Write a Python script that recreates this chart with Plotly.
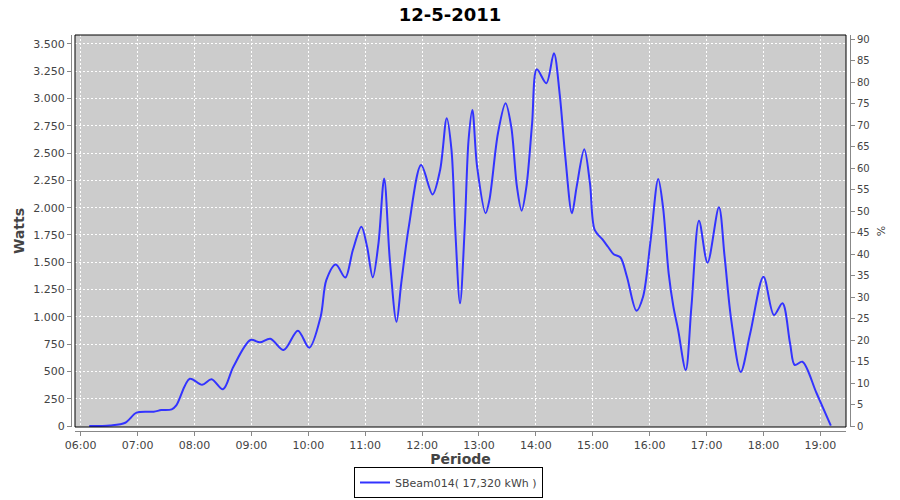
import plotly.graph_objects as go

# Data (time of day, watts)
times = ["06:09", "06:31", "06:47", "06:59", "07:17", "07:25", "07:36", "07:41", "07:55", "08:08",
         "08:18", "08:30", "08:41", "08:59", "09:09", "09:20", "09:34", "09:49", "10:01", "10:13",
         "10:19", "10:29", "10:39", "10:47", "10:56", "11:02", "11:08", "11:14", "11:20", "11:26",
         "11:33", "11:38", "11:46", "11:59", "12:11", "12:19", "12:26", "12:31", "12:35", "12:40",
         "12:45", "12:49", "12:53", "12:58", "13:07", "13:11", "13:20", "13:28", "13:34", "13:40",
         "13:45", "13:50", "13:56", "14:01", "14:11", "14:19", "14:25", "14:31", "14:38", "14:43",
         "14:51", "14:57", "15:02", "15:10", "15:16", "15:22", "15:29", "15:36", "15:46", "15:53",
         "16:01", "16:09", "16:14", "16:20", "16:25", "16:30", "16:38", "16:44", "16:52", "17:01",
         "17:13", "17:19", "17:26", "17:36", "17:46", "18:00", "18:11", "18:20", "18:28", "18:33",
         "18:41", "18:56", "19:11"]
watts = [0, 5, 30, 122, 131, 146, 153, 192, 433, 378,
         428, 336, 543, 788, 767, 800, 696, 873, 717, 1001,
         1336, 1480, 1360, 1612, 1826, 1642, 1362, 1673, 2268, 1520,
         955, 1307, 1826, 2391, 2122, 2345, 2819, 2529, 1796, 1124,
         1826, 2620, 2895, 2376, 1949, 2071, 2682, 2957, 2742, 2193,
         1973, 2193, 2773, 3268, 3140, 3415, 3048, 2467, 1949, 2193,
         2535, 2224, 1796, 1711, 1642, 1573, 1546, 1368, 1056, 1185,
         1704, 2263, 2009, 1399, 1093, 880, 513, 1093, 1881, 1496,
         2004, 1551, 971, 495, 849, 1368, 1017, 1124, 758, 559,
         589, 300, 3]

day = "2011-05-12"
series_name = "SBeam014( 17,320 kWh )"
title_text = "12-5-2011"
x_range = [day + " 05:54:00", day + " 19:27:00"]
y_range = [-9, 3582]
y2_range = [-0.23, 90.93]

xs = [f"{day} {t}:00" for t in times]

W, H = 900, 500
ml, mr, mt, mb = 71, 50, 35, 69
pw = W - ml - mr
ph = H - mt - mb
off = 4

font_fam = "DejaVu Sans"
axis_col = "#888888"
txt_col = "#444444"

fig = go.Figure()
fig.add_trace(go.Scatter(
    x=xs, y=watts, mode="lines", name=series_name,
    line=dict(color="#3333ff", width=2, shape="spline", smoothing=0.9),
    hoverinfo="skip",
))
# invisible trace so the right-hand % axis is drawn
fig.add_trace(go.Scatter(
    x=[xs[0]], y=[0], yaxis="y2", mode="lines", showlegend=False,
    line=dict(color="rgba(0,0,0,0)"), hoverinfo="skip",
))

fig.update_layout(
    width=W, height=H,
    margin=dict(l=ml, r=mr, t=mt, b=mb, autoexpand=False),
    paper_bgcolor="white",
    plot_bgcolor="#cccccc",
    separators=",.",
    font=dict(family=font_fam, size=11, color=txt_col),
    title=dict(text=title_text, x=0.5, xref="container", xanchor="center",
               y=1 - 15 / H, yref="container", yanchor="middle",
               font=dict(family=font_fam, size=18, color="black", weight="bold")),
    showlegend=True,
    legend=dict(orientation="h", x=448.5 / W, xanchor="center", xref="container",
                y=1 - 498 / H, yanchor="bottom", yref="container",
                bordercolor="black", borderwidth=1, bgcolor="white",
                font=dict(family=font_fam, size=11, color=txt_col),
                itemwidth=30),
    xaxis=dict(
        type="date", range=x_range, domain=[off / pw, 1 - off / pw],
        anchor="free", position=0, automargin=False,
        tickformat="%H:%M", dtick=3600000, tick0=day + " 06:00:00",
        showgrid=True, gridcolor="white", griddash="2px,2px", gridwidth=1,
        zeroline=False,
        showline=True, linecolor=axis_col, linewidth=1,
        ticks="outside", ticklen=4, tickcolor=axis_col,
        tickfont=dict(family=font_fam, size=11, color=txt_col),
        title=dict(text="Période", standoff=4,
                   font=dict(family=font_fam, size=14, color=txt_col, weight="bold")),
    ),
    yaxis=dict(
        range=y_range, domain=[off / ph, 1],
        anchor="free", position=0, automargin=False,
        dtick=250, tick0=0, tickformat=",d",
        showgrid=True, gridcolor="white", griddash="2px,2px", gridwidth=1,
        zeroline=False,
        showline=True, linecolor=axis_col, linewidth=1,
        ticks="outside", ticklen=4, tickcolor=axis_col,
        tickfont=dict(family=font_fam, size=11, color=txt_col),
        title=dict(text="Watts", standoff=4,
                   font=dict(family=font_fam, size=14, color=txt_col, weight="bold")),
    ),
    yaxis2=dict(
        range=y2_range, overlaying="y", side="right",
        anchor="free", position=1, automargin=False,
        dtick=5, tick0=0,
        showgrid=False, zeroline=False,
        showline=True, linecolor=axis_col, linewidth=1,
        ticks="outside", ticklen=4, tickcolor=axis_col,
        tickfont=dict(family=font_fam, size=10, color=txt_col),
        title=dict(text="%", standoff=8,
                   font=dict(family=font_fam, size=11, color=txt_col)),
    ),
    shapes=[dict(type="rect", xref="x domain", yref="y domain",
                 x0=0, x1=1, y0=0, y1=1, line=dict(color="black", width=1),
                 fillcolor="rgba(0,0,0,0)", layer="above")],
)

fig.write_html(
    "out.html",
    config={"displayModeBar": False},
    post_script="document.body.style.margin='0';document.body.style.padding='0';"
                "document.body.style.overflow='hidden';",
)
